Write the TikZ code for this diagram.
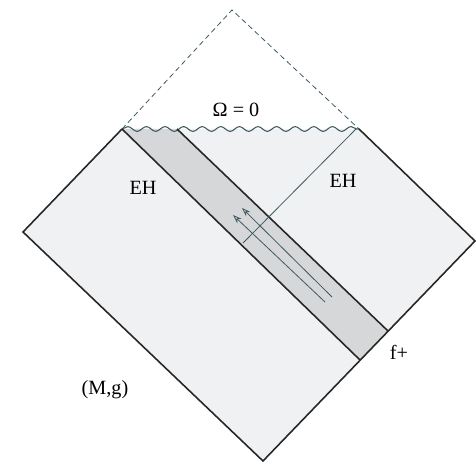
\documentclass[tikz,border=0pt]{standalone}
\usepackage{fontspec}
\setmainfont{Liberation Serif}
\usetikzlibrary{decorations.pathmorphing,arrows.meta}
\definecolor{sheet}{RGB}{239,241,243}
\definecolor{band}{RGB}{214,215,216}
\definecolor{ink}{RGB}{62,88,98}
\tikzset{
  edge/.style={line width=.9pt,black!85},
  thin/.style={line width=.45pt,ink},
  lab/.style={font=\fontsize{11.5}{13}\selectfont,inner sep=1pt}
}
\begin{document}
\begin{tikzpicture}[x=.02cm,y=-.02cm]
\useasboundingbox (0,0) rectangle (476,462);
% corners of the diagram
\coordinate (L) at (23,232);
\coordinate (TL) at (122,129);
\coordinate (TR) at (359,129);
\coordinate (R) at (475,241);
\coordinate (B) at (263,461);
\coordinate (A) at (232,10);
\coordinate (S) at (177,129);
\coordinate (P) at (360,360);
\coordinate (Q) at (388,331);
\fill[sheet] (L) -- (TL) -- (TR) -- (R) -- (B) -- cycle;
\fill[band] (TL) -- (S) -- (Q) -- (P) -- cycle;
\draw[thin,dashed,dash pattern=on 3pt off 2pt] (TL) -- (A) -- (TR);
\draw[thin,line width=.6pt,decorate,decoration={snake,segment length=18.6*.02cm,amplitude=2.4*.02cm}] (TL) -- (TR);
\draw[edge,line join=miter] (TL) -- (L) -- (B) -- (R) -- (TR);
\draw[edge] (TL) -- (P);
\draw[edge] (S) -- (Q);
\draw[thin] (356,129) coordinate (h1) -- (243,243) coordinate (h2);
\draw[thin,-{Stealth[length=5pt,width=3.5pt,open]}] (325,302) coordinate (a1) -- (233,215) coordinate (a2);
\draw[thin,-{Stealth[length=5pt,width=3.5pt,open]}] (332,297) coordinate (b1) -- (242,208) coordinate (b2);
\node[lab] (omega) at (236,110) {Ω = 0};
\node[lab] (ehl) at (143,188) {EH};
\node[lab] (ehr) at (343,181) {EH};
\node[lab] (fplus) at (399,352) {f+};
\node[lab] (mg) at (105,390) {(M,g)};
\end{tikzpicture}
\end{document}
